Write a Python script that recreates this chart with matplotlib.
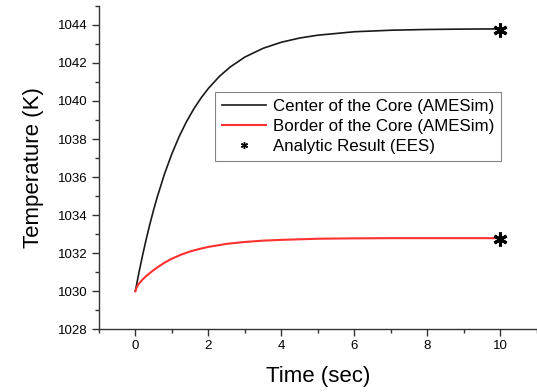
import matplotlib.pyplot as plt
from matplotlib.lines import Line2D
from matplotlib.ticker import MultipleLocator

plt.rcParams['font.family'] = ['Liberation Sans', 'DejaVu Sans']

# values
t_center = [0, 0.1, 0.2, 0.3, 0.4, 0.5, 0.6, 0.8, 1.0, 1.2, 1.4, 1.6, 1.8, 2.0, 2.3, 2.6,
            3.0, 3.5, 4.0, 4.5, 5.0, 6.0, 7.0, 8.0, 9.0, 10.0]
T_center = [1030.0, 1030.99, 1031.90, 1032.75, 1033.54, 1034.27, 1034.95, 1036.17, 1037.22,
            1038.13, 1038.91, 1039.58, 1040.16, 1040.66, 1041.29, 1041.79, 1042.31, 1042.77,
            1043.09, 1043.31, 1043.46, 1043.64, 1043.72, 1043.76, 1043.78, 1043.79]

t_border = [0, 0.02, 0.05, 0.1, 0.2, 0.3, 0.4, 0.5, 0.6, 0.8, 1.0, 1.25, 1.5, 1.75, 2.0,
            2.5, 3.0, 3.5, 4.0, 5.0, 6.0, 7.0, 8.0, 10.0]
T_border = [1030.0, 1030.12, 1030.25, 1030.40, 1030.62, 1030.80, 1030.96, 1031.11, 1031.25,
            1031.50, 1031.71, 1031.92, 1032.09, 1032.22, 1032.33, 1032.49, 1032.59, 1032.66,
            1032.70, 1032.76, 1032.78, 1032.79, 1032.79, 1032.79]

t_ees = [10, 10]
T_ees = [1043.75, 1032.72]

fig = plt.figure(figsize=(5.37, 3.92), dpi=100)
ax = fig.add_axes([0.184, 0.16, 0.816, 0.825])

ax.plot(t_center, T_center, color='#1a1a1a', lw=1.2)
ax.plot(t_border, T_border, color='#ff3030', lw=1.5)
ax.plot(t_ees, T_ees, ls='none', marker=(6, 2, 0), ms=10, mew=2.2, color='black')

ax.set_xlim(-1, 11)
ax.set_ylim(1028, 1045)
ax.xaxis.set_major_locator(MultipleLocator(2))
ax.xaxis.set_minor_locator(MultipleLocator(1))
ax.yaxis.set_major_locator(MultipleLocator(2))
ax.yaxis.set_minor_locator(MultipleLocator(1))

for s in ['top', 'right']:
    ax.spines[s].set_visible(False)
for s in ['left', 'bottom']:
    ax.spines[s].set_color('#333333')
    ax.spines[s].set_linewidth(1.0)

ax.tick_params(which='major', direction='out', length=5, width=1, color='#333333',
               labelsize=9.5, pad=3)
ax.tick_params(which='minor', direction='out', length=3, width=1, color='#333333')

ax.set_xlabel('Time (sec)', fontsize=16, labelpad=10)
ax.set_ylabel('Temperature (K)', fontsize=16, labelpad=10)

handles = [
    Line2D([], [], color='#1a1a1a', lw=1.2),
    Line2D([], [], color='#ff3030', lw=1.5),
    Line2D([], [], ls='none', marker=(6, 2, 0), ms=5, mew=1.0, color='black'),
]
labels = ['Center of the Core (AMESim)', 'Border of the Core (AMESim)',
          'Analytic Result (EES)']
leg = ax.legend(handles, labels, loc='upper left', bbox_to_anchor=(0.265, 0.733),
                borderaxespad=0, fontsize=12.2, frameon=True, fancybox=False,
                handlelength=2.6, handletextpad=0.4, labelspacing=0.3, borderpad=0.4)
leg.get_frame().set_edgecolor('#666666')
leg.get_frame().set_linewidth(0.8)

fig.savefig('out.png', dpi=100)
